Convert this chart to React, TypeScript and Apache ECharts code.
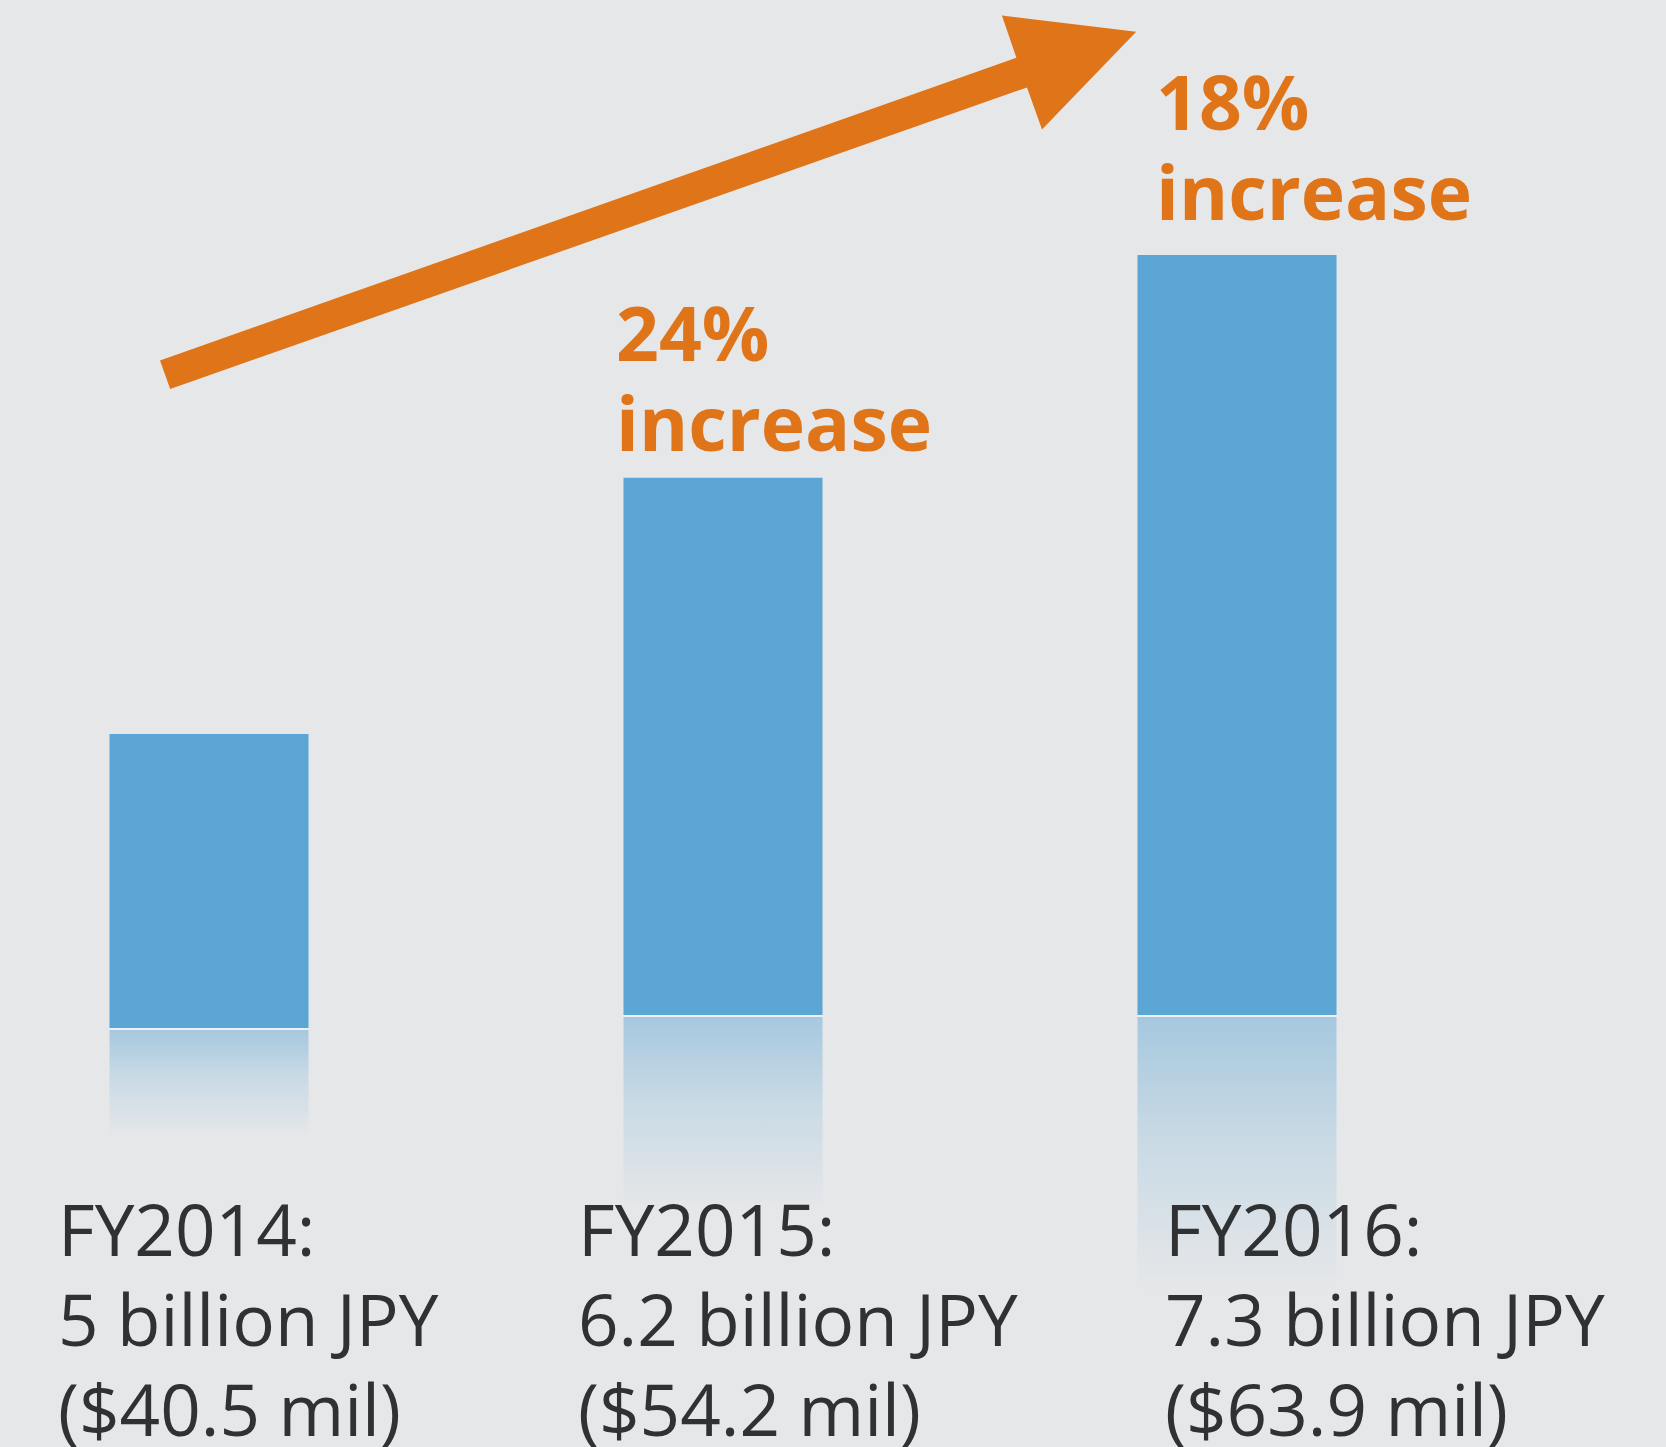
import React, { useEffect, useRef } from "react";
import * as echarts from "echarts";

// ---- data ----
const categories = ["FY2014", "FY2015", "FY2016"];
const valuesBillionJPY = [5, 6.2, 7.3];
const valuesMillionUSD = [40.5, 54.2, 63.9];
const increaseLabels = ["", "24%", "18%"];
// FY2014's bar sits on a slightly lower baseline than the other two in the graphic
const baselineGroup = [0, 1, 1];

const Y_MIN = 3.55;
const Y_MAX = 8;

const BG = "#e6e7e9";
const BAR = "#5ba6d4";
const ORANGE = "#e07418";
const TEXT = "#303133";

export default function App() {
  const ref = useRef<HTMLDivElement>(null);

  useEffect(() => {
    if (!ref.current) return;
    const chart = echarts.init(ref.current, undefined, { renderer: "svg" });

    const grids = [
      { left: 209, right: 429, top: 126, bottom: 419 },
      { left: 209, right: 429, top: 113, bottom: 432 },
    ];

    const xAxes = grids.map((_, gi) => ({
      type: "category",
      gridIndex: gi,
      data: categories,
      boundaryGap: false,
      show: false,
    }));
    const yAxes = grids.map((_, gi) => ({
      type: "value",
      gridIndex: gi,
      min: Y_MIN,
      max: Y_MAX,
      show: false,
    }));

    const barSeries = grids.map((_, gi) => ({
      type: "bar",
      xAxisIndex: gi,
      yAxisIndex: gi,
      barWidth: 199,
      itemStyle: { color: BAR },
      data: valuesBillionJPY.map((v, i) => (baselineGroup[i] === gi ? v : "-")),
      z: 3,
    }));

    const reflectionSeries = grids.map((_, gi) => ({
      type: "custom",
      xAxisIndex: gi,
      yAxisIndex: gi,
      z: 2,
      data: valuesBillionJPY
        .map((v, i) => [i, v])
        .filter((d) => baselineGroup[d[0] as number] === gi),
      renderItem: (params: any, api: any) => {
        const idx = api.value(0);
        const val = api.value(1);
        const top = api.coord([idx, val]);
        const base = api.coord([idx, Y_MIN]);
        const h = base[1] - top[1];
        const w = 199;
        const x = base[0] - w / 2;
        const rh = h * 0.36;
        return {
          type: "group",
          children: [
            {
              type: "rect",
              shape: { x, y: base[1], width: w, height: 2 },
              style: { fill: "#edf1f4" },
            },
            {
              type: "rect",
              shape: { x, y: base[1] + 2, width: w, height: rh },
              style: {
                fill: new echarts.graphic.LinearGradient(0, 0, 0, 1, [
                  { offset: 0, color: "#a6c8df" },
                  { offset: 0.45, color: "#c9dae5" },
                  { offset: 1, color: BG },
                ]),
              },
            },
          ],
        };
      },
    }));

    const bottomLabels = categories.map((c, i) => ({
      type: "text",
      left: [58, 578, 1165][i],
      top: 1183,
      z: 10,
      style: {
        text: `${c}:\n${valuesBillionJPY[i]} billion JPY\n($${valuesMillionUSD[i]} mil)`,
        fontFamily: "Open Sans",
        fontSize: 71,
        lineHeight: 90,
        fill: TEXT,
      },
    }));

    const incLabelPos = [null, { x: 616, y: 287 }, { x: 1156, y: 56 }];
    const increaseTexts = increaseLabels
      .map((t, i) => ({ t, i }))
      .filter((d) => d.t)
      .map(({ t, i }) => ({
        type: "text",
        left: (incLabelPos[i] as any).x,
        top: (incLabelPos[i] as any).y,
        z: 10,
        style: {
          text: `${t}\nincrease`,
          fontFamily: "Open Sans",
          fontWeight: "bold",
          fontSize: 75,
          lineHeight: 90,
          fill: ORANGE,
        },
      }));

    const arrow = {
      type: "polygon",
      z: 10,
      shape: {
        points: [
          [160, 360.5],
          [1016.4, 57.8],
          [1001.9, 15.5],
          [1136.2, 31.8],
          [1042, 129.5],
          [1027, 87.4],
          [170.2, 389],
        ],
      },
      style: { fill: ORANGE },
    };

    chart.setOption({
      animation: false,
      backgroundColor: BG,
      grid: grids,
      xAxis: xAxes,
      yAxis: yAxes,
      series: [...reflectionSeries, ...barSeries],
      graphic: [arrow, ...increaseTexts, ...bottomLabels],
    });

    return () => chart.dispose();
  }, []);

  return (
    <div
      ref={ref}
      style={{ position: "fixed", left: 0, top: 0, width: 1666, height: 1447 }}
    />
  );
}
